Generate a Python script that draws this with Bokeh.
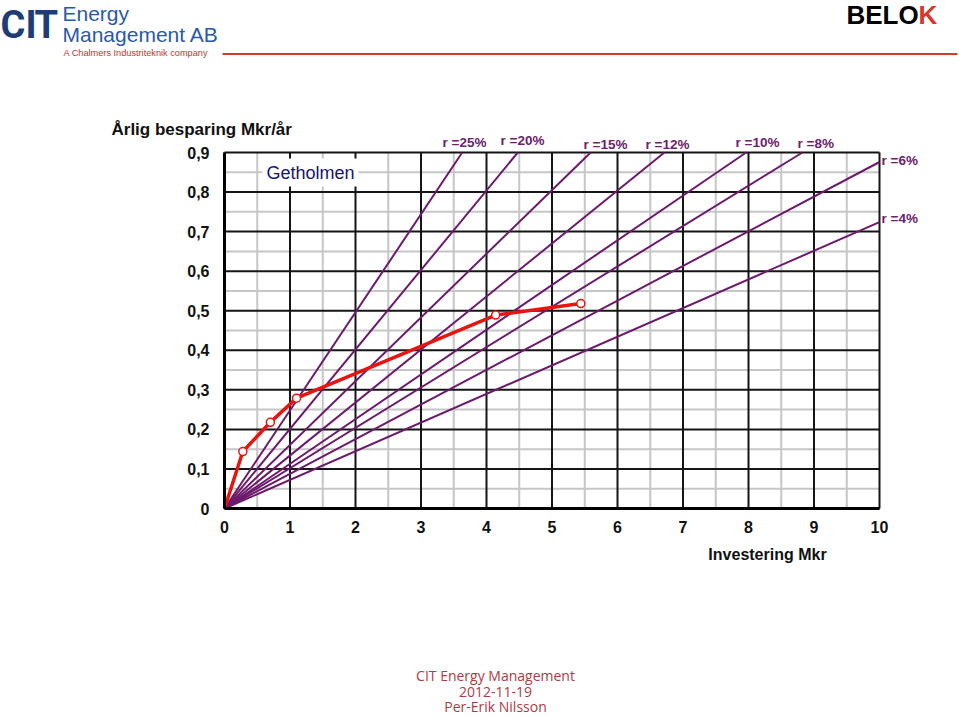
from bokeh.plotting import figure
from bokeh.models import FixedTicker, CustomJSTickFormatter, Label, BoxAnnotation, LinearAxis
from bokeh.embed import file_html
from bokeh.resources import INLINE

# ---------------- data ----------------
investment = [0.0, 0.28, 0.70, 1.10, 4.14, 5.44]      # Mkr
saving = [0.0, 0.144, 0.218, 0.279, 0.489, 0.518]      # Mkr/år
rate_labels = ["r =25%", "r =20%", "r =15%", "r =12%", "r =10%", "r =8%", "r =6%", "r =4%"]
rate_slopes = [0.248, 0.201, 0.161, 0.134, 0.113, 0.102, 0.0876, 0.0724]
x_ticks = [0, 1, 2, 3, 4, 5, 6, 7, 8, 9, 10]
y_ticks = [0, 0.1, 0.2, 0.3, 0.4, 0.5, 0.6, 0.7, 0.8, 0.9]
x_max, y_max = 10, 0.9

# ---------------- layout (plot area inside the 959x717 slide) ----------------
W, H = 959, 717
LEFT, RIGHT, TOP, BOTTOM = 224, 80, 152, 209
FW, FH = W - LEFT - RIGHT, H - TOP - BOTTOM

def X(px):
    return (px - LEFT) / FW * x_max

def Y(py):
    return (H - BOTTOM - py) / FH * y_max

FONT = "Liberation Sans"
PURPLE = "#6c1a6c"
RED = "#e8140f"

p = figure(width=W, height=H, x_range=(X(0), X(W)), y_range=(Y(H), Y(0)),
           output_backend="svg", toolbar_location=None,
           x_axis_location=None, y_axis_location=None,
           min_border_left=0, min_border_right=0,
           min_border_top=0, min_border_bottom=0)
p.background_fill_color = "white"
p.border_fill_color = "white"
p.outline_line_color = None
p.xgrid.visible = False
p.ygrid.visible = False

# grid (bounded to the chart area)
x_minor = [t + 0.5 for t in x_ticks[:-1]]
y_minor = [t + 0.05 for t in y_ticks[:-1]]
GRAY, BLACK = "#c6c6c6", "#151515"
p.segment(x0=x_minor, y0=[0] * len(x_minor), x1=x_minor, y1=[y_max] * len(x_minor),
          line_color=GRAY, line_width=2)
p.segment(x0=[0] * len(y_minor), y0=y_minor, x1=[x_max] * len(y_minor), y1=y_minor,
          line_color=GRAY, line_width=2)
p.segment(x0=x_ticks, y0=[0] * len(x_ticks), x1=x_ticks, y1=[y_max] * len(x_ticks),
          line_color=BLACK, line_width=2)
p.segment(x0=[0] * len(y_ticks), y0=y_ticks, x1=[x_max] * len(y_ticks), y1=y_ticks,
          line_color=BLACK, line_width=2)

# axes fixed at the origin
xaxis = LinearAxis(ticker=FixedTicker(ticks=x_ticks), fixed_location=0, bounds=(0, x_max))
yaxis = LinearAxis(ticker=FixedTicker(ticks=y_ticks), fixed_location=0, bounds=(0, y_max),
                   formatter=CustomJSTickFormatter(
                       code="return tick == 0 ? '0' : tick.toFixed(1).replace('.', ',');"))
for ax in (xaxis, yaxis):
    ax.axis_line_color = "black"
    ax.axis_line_width = 3
    ax.major_tick_out = 0
    ax.major_tick_in = 0
    ax.minor_tick_out = 0
    ax.minor_tick_in = 0
    ax.major_label_text_font = FONT
    ax.major_label_text_font_style = "bold"
    ax.major_label_text_font_size = "16px"
    ax.major_label_text_color = "#111111"
yaxis.major_label_standoff = 15
xaxis.major_label_standoff = 12
p.add_layout(xaxis, "below")
p.add_layout(yaxis, "left")

# rate lines through origin
xs, ys = [], []
for k in rate_slopes:
    xe = min(x_max, y_max / k)
    xs.append([0, xe])
    ys.append([0, k * xe])
p.multi_line(xs, ys, line_color=PURPLE, line_width=2)

# Getholmen curve
p.line(investment, saving, line_color=RED, line_width=3.5)
p.scatter(investment[1:], saving[1:], size=8, marker="circle",
          fill_color="white", line_color=RED, line_width=1.5)

# rate labels (left edge px, centre py)
rate_label_pos = [(442, 142), (500, 140), (583, 144), (645, 144),
                  (735, 142), (797, 143), (881, 160), (881, 218)]
for txt, (px, py) in zip(rate_labels, rate_label_pos):
    p.add_layout(Label(x=X(px), y=Y(py), text=txt, text_align="left",
                       text_baseline="middle", text_font=FONT,
                       text_font_style="bold", text_font_size="13.5px",
                       text_color="#6e206e"))

# axis titles
p.add_layout(Label(x=X(111), y=Y(129), text="Årlig besparing Mkr/år",
                   text_align="left", text_baseline="middle", text_font=FONT,
                   text_font_style="bold", text_font_size="17px", text_color="#111111"))
p.add_layout(Label(x=X(767), y=Y(554), text="Investering Mkr",
                   text_align="center", text_baseline="middle", text_font=FONT,
                   text_font_style="bold", text_font_size="16px", text_color="#111111"))

# series name
p.add_layout(Label(x=X(262), y=Y(172), text="Getholmen", text_align="left",
                   text_baseline="middle", text_font=FONT,
                   text_font_size="18px", text_color="#161670",
                   background_fill_color="white", padding=4))

# ---------------- header (logos) ----------------
NAVY = "#1d3c78"
BLUE = "#2a5aa6"
for ch, px in (("C", 0), ("I", 25), ("T", 34)):
    p.add_layout(Label(x=X(px), y=Y(24), text=ch, text_align="left",
                       text_baseline="middle", text_font="Roboto",
                       text_font_style="bold", text_font_size="38px", text_color=NAVY))
p.add_layout(Label(x=X(62), y=Y(13), text="Energy", text_align="left",
                   text_baseline="middle", text_font=FONT,
                   text_font_size="21px", text_color=BLUE))
p.add_layout(Label(x=X(62), y=Y(34), text="Management AB", text_align="left",
                   text_baseline="middle", text_font=FONT,
                   text_font_size="21px", text_color=BLUE))
p.add_layout(Label(x=X(63), y=Y(52), text="A Chalmers Industriteknik company",
                   text_align="left", text_baseline="middle", text_font=FONT,
                   text_font_size="9.2px", text_color="#c8322d"))
p.add_layout(BoxAnnotation(left=X(222), right=X(957), bottom=Y(54.5), top=Y(52.5),
                           fill_color="#d9372b", fill_alpha=1, line_alpha=0))
p.add_layout(Label(x=X(846), y=Y(14), text="BELO", text_align="left",
                   text_baseline="middle", text_font=FONT,
                   text_font_style="bold", text_font_size="26px", text_color="black"))
p.add_layout(Label(x=X(918), y=Y(14), text="K", text_align="left",
                   text_baseline="middle", text_font=FONT,
                   text_font_style="bold", text_font_size="26px", text_color="#d9372b"))

# ---------------- footer ----------------
for txt, py in (("CIT Energy Management", 675), ("2012-11-19", 691), ("Per-Erik Nilsson", 706)):
    p.add_layout(Label(x=X(495), y=Y(py), text=txt, text_align="center",
                       text_baseline="middle", text_font="Open Sans",
                       text_font_size="14px", text_color="#b03a44"))

open("out.html", "w").write(file_html(p, INLINE))
